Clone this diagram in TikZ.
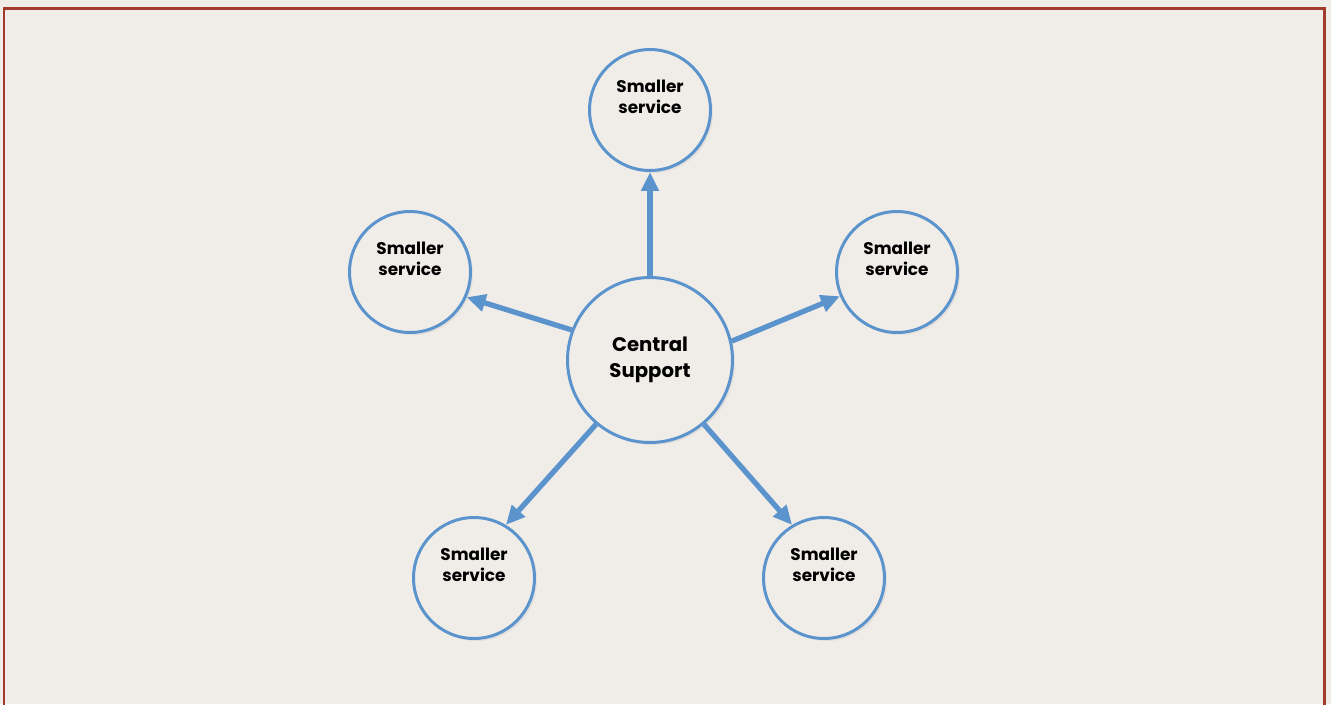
\documentclass[tikz,border=0pt]{standalone}
\usepackage{fontspec}
\setmainfont{Poppins}
\usepackage{xcolor}
\usetikzlibrary{arrows.meta,shadows}

\definecolor{paper}{HTML}{F0EDE9}
\definecolor{frame}{HTML}{A33A2B}
\definecolor{hub}{HTML}{5B93CD}

\begin{document}
\begin{tikzpicture}[x=0.02cm, y=-0.02cm,
    soft/.style={drop shadow={opacity=0.12, shadow xshift=0.05cm, shadow yshift=-0.05cm}},
    main/.style={draw=hub, line width=1.7pt, circle, fill=paper, soft},
    central/.style={main, minimum size=3.3cm, font=\bfseries\fontsize{11.2}{14.5}\selectfont, align=center},
    small/.style={main, minimum size=2.42cm,
        label={[font=\bfseries\fontsize{9.6}{12}\selectfont, align=center, yshift=0.26cm]center:Smaller\\service}},
    link/.style={draw=hub, line width=3pt, -{Triangle[length=0.38cm, width=0.34cm]}}]
    % bakgrunn og ramme
    \fill[paper] (0,0) rectangle (1331,704);
    \useasboundingbox (0,0) rectangle (1331,704);
    \draw[frame, line width=1.7pt] (4,720) -- (4,8.5) -- (1324.5,8.5) -- (1324.5,720);

    % nodene
    \node[central] (c) at (650,360) {Central\\Support};
    \node[small] (1) at (650,110) {};
    \node[small] (2) at (410,272) {};
    \node[small] (3) at (897,272) {};
    \node[small] (4) at (474,578) {};
    \node[small] (5) at (824,578) {};

    % pilene
    \draw[link] (c.90) -- (1.270);
    \draw[link] (c.159) -- (2.-24);
    \draw[link] (c.13) -- (3.203);
    \draw[link] (c.230) -- (4.59);
    \draw[link] (c.310) -- (5.121);
\end{tikzpicture}
\end{document}
